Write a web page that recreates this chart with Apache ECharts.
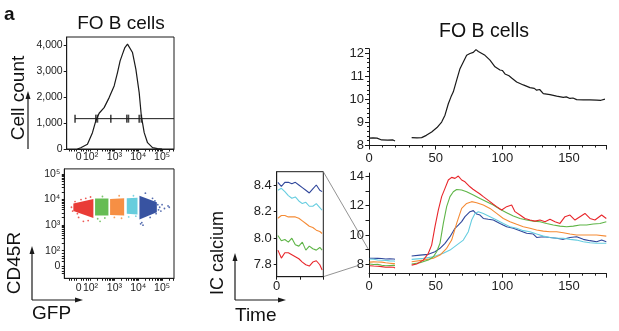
<!DOCTYPE html>
<html><head><meta charset="utf-8">
<script src="https://cdn.jsdelivr.net/npm/echarts@6/dist/echarts.min.js"></script>
<style>html,body{margin:0;padding:0;background:#fff}#c{width:619px;height:331px}</style>
</head><body><div id="c"></div>
<script>
// ---------- DATA ----------
// Histogram (x in decade units of GFP biexponential scale)
const histX     = [1.45,1.59,1.87,2.08,2.22,2.36,2.57,2.78,2.99,3.13,3.24,3.34,3.44,3.55,3.62,3.76,3.90,4.04,4.13,4.25,4.39,4.60,4.81,5.0];
const histCount = [0,50,180,627,1077,1373,1588,1973,2423,2935,3385,3642,3896,4027,3988,3704,3065,2165,1269,627,242,50,12,0];
const gateLineY = 1165;
const gateLineX = [1.35, 5.5];
const gateMarkX = [1.35,2.22,2.29,2.85,3.52,3.59,4.04,4.13];
const decadePos = [1.5,2,3,4,5];
const decadeLab = ['0','10²','10³','10⁴','10⁵'];
const cdPos = [1.4,2,3,4,5];
const cdLab = ['0','10²','10³','10⁴','10⁵'];
// Scatter gates: [xStart, xEnd, loStart, hiStart, loEnd, hiEnd] (decades)
const gateColors = ['#e8322c','#5db84b','#f5893a','#5fcadb','#2d4a9c'];
const gateClouds = [
  [1.28,2.12,3.55,3.85,3.28,4.02],
  [2.19,2.75,3.38,4.04,3.38,4.04],
  [2.82,3.41,3.40,4.02,3.38,4.05],
  [3.52,3.97,3.45,4.05,3.42,4.07],
  [4.05,4.78,3.22,4.15,3.5,3.9]
];
const loosePts = [
  [[1.2,3.7],[1.25,3.55],[1.35,3.92],[1.5,3.3],[1.7,3.15],[1.9,3.18],[2.0,4.1],[1.6,4.0],[1.45,3.45],[1.8,4.05]],
  [[2.3,3.25],[2.5,4.12],[2.6,3.28],[2.4,3.15]],
  [[3.0,3.3],[3.2,4.15],[3.3,3.27]],
  [[3.6,3.32],[3.8,4.15],[3.9,3.35]],
  [[4.1,3.05],[4.2,3.0],[4.3,4.25],[4.5,3.3],[4.6,4.05],[4.9,3.7],[5.0,3.8],[5.1,3.65],[5.25,3.75],[5.3,3.7],[4.95,3.55],[4.15,3.1],[4.75,3.45],[4.7,3.95],[4.85,3.6],[4.82,3.8]]
];
// Top trace (black) — [time, IC calcium]
const topSeg1 = [[0,8.3],[3,8.31],[6,8.3],[9.5,8.22],[14,8.21],[18,8.22],[19.5,8.17]];
const topSeg2 = [[32,8.32],[36,8.31],[39.5,8.32],[43,8.42],[47,8.57],[51,8.76],[54.5,9.0],[57,9.3],[59.5,9.8],[61.5,10.1],[63.25,10.32],[65.75,10.83],[68.25,11.33],[70.75,11.62],[73.25,11.91],[75.75,11.99],[78.25,12.04],[80.25,12.16],[82,12.08],[83.25,12.02],[87,11.91],[90.75,11.7],[94.5,11.41],[98.25,11.27],[100,11.25],[102,11.1],[105,11.02],[107,10.92],[110.75,10.75],[115.75,10.62],[120.75,10.5],[124,10.47],[125.75,10.39],[128,10.42],[130.75,10.24],[135.75,10.2],[140.75,10.13],[145.75,10.08],[148,10.1],[150.75,10.03],[153,10.05],[155.75,9.98],[160.75,9.97],[165.75,9.97],[170.75,9.96],[174,9.95],[177,10.0]];
// Baseline (0-20 s) per gate, also shown in the inset
const baseT   = [0.5,2,3.5,5,6.5,8,9.5,11,12.5,14,15.5,17,18.5,19.5];
const baseBlue   = [8.42,8.39,8.42,8.42,8.41,8.42,8.40,8.38,8.36,8.34,8.37,8.40,8.36,8.35];
const baseCyan   = [8.36,8.375,8.35,8.32,8.30,8.31,8.28,8.26,8.27,8.24,8.24,8.26,8.23,8.21];
const baseOrange = [8.15,8.17,8.17,8.16,8.16,8.16,8.15,8.13,8.11,8.09,8.08,8.06,8.05,8.035];
const baseGreen  = [8.02,7.98,7.99,7.97,8.0,7.95,7.94,7.97,7.91,7.94,7.92,7.91,7.93,7.91];
const baseRed    = [7.91,7.85,7.89,7.89,7.875,7.86,7.845,7.82,7.80,7.79,7.82,7.83,7.80,7.76];
// Response after stimulation — [time, IC calcium]
const redSeg2 = [[32,7.95],[35.75,8.02],[40.75,8.29],[44.5,8.75],[47,9.31],[49.5,10.56],[52,11.69],[54.5,12.6],[57,13.16],[59.5,13.73],[62,13.91],[64.5,13.84],[67,14.0],[69.5,13.73],[72,13.61],[75.75,13.27],[78,13.1],[80.75,12.93],[83,12.8],[85.75,12.6],[88,12.45],[90.75,12.26],[93,12.1],[95.75,11.92],[99.5,11.69],[103.25,11.92],[107,12.03],[109.5,11.58],[113.25,11.35],[117,11.12],[120.75,11.01],[124.5,10.94],[128.25,11.01],[132,10.9],[135.75,11.06],[139.5,10.9],[143.25,10.78],[147,11.24],[150.75,11.35],[154.5,11.01],[158.25,11.24],[162,11.46],[165.75,11.12],[169.5,11.01],[174.5,11.35],[178,11.12]];
const greenSeg2 = [[32,8.02],[38.25,8.11],[44.5,8.29],[48.25,8.52],[50.75,8.86],[53.25,9.43],[55.75,10.78],[58.25,11.92],[60.75,12.6],[63.25,12.93],[65.75,13.09],[69.5,13.05],[73.25,12.93],[78.25,12.71],[83.25,12.48],[88.25,12.26],[93.25,12.03],[98.25,11.74],[103.25,11.51],[108.25,11.28],[113.25,11.12],[118.25,11.01],[123.25,10.94],[128.25,10.9],[133.25,10.78],[138.25,10.67],[143.25,10.6],[148.25,10.56],[153.25,10.6],[158.25,10.67],[163.25,10.67],[168.25,10.74],[173.25,10.78],[178,10.9]];
const orangeSeg2 = [[32,8.18],[40.75,8.29],[48.25,8.41],[53.25,8.63],[58.25,9.09],[62,9.65],[65.75,10.78],[69.5,11.8],[73.25,12.14],[77,12.26],[80.75,12.19],[85.75,12.03],[90.75,11.8],[95.75,11.46],[100.75,11.12],[105.75,10.9],[110.75,10.72],[115.75,10.56],[120.75,10.45],[125.75,10.33],[130.75,10.26],[135.75,10.22],[140.75,10.22],[145.75,10.15],[150.75,10.06],[155.75,9.99],[160.75,9.99],[165.75,9.99],[170.75,9.99],[178,9.92]];
const cyanSeg2 = [[32,8.34],[40.75,8.41],[48.25,8.52],[55.75,8.75],[60.75,8.97],[65.75,9.31],[70.75,9.65],[74.5,10.22],[77,11.01],[79.5,11.46],[82,11.58],[85.75,11.46],[90.75,11.24],[95.75,11.01],[100.75,10.78],[105.75,10.56],[110.75,10.45],[115.75,10.29],[120.75,10.22],[125.75,10.06],[130.75,9.92],[135.75,9.83],[140.75,9.77],[145.75,9.77],[150.75,9.7],[155.75,9.65],[160.75,9.54],[165.75,9.47],[170.75,9.43],[178,9.43]];
const blueSeg2 = [[32,8.57],[38.25,8.63],[44.5,8.68],[49.5,8.86],[53.25,9.09],[57,9.43],[60.75,9.88],[64.5,10.45],[67,10.67],[69.5,10.9],[72,11.24],[75.75,11.58],[78.25,11.65],[80.75,11.42],[83.25,11.35],[85.75,11.12],[89.5,11.06],[93.25,11.01],[98.25,10.78],[103.25,10.56],[108.25,10.45],[113.25,10.29],[118.25,10.11],[123.25,10.06],[125.75,9.83],[130.75,9.88],[135.75,9.83],[140.75,9.77],[145.75,9.7],[150.75,9.83],[155.75,9.88],[160.75,9.7],[165.75,9.61],[170.75,9.54],[174.5,9.65],[178,9.54]];
const mainTopY = [8,9,10,11,12];
const mainBotY = [8,10,12,14];
const insetY = [7.8,8.0,8.2,8.4];

// ---------- CHART ----------
const FONT = "'Liberation Sans', Arial, Helvetica, sans-serif";
const INK = '#1a1a1a';
const chart = echarts.init(document.getElementById('c'), null, {renderer:'canvas'});

const logMinor = [];
[1.1,1.2,1.3,1.4,1.6,1.7,1.8,1.9].forEach(v=>logMinor.push(v));
for (let k=2;k<=5;k++){ for (let m=1;m<=9;m++){ const v=k+Math.log10(m); if (v<=5.5) logMinor.push(+v.toFixed(4)); } }

function lab(pos, labs){ return function(v){ const i = pos.findIndex(p=>Math.abs(p-v)<1e-6); return i>=0?labs[i]:''; }; }
const axLine = {show:true, lineStyle:{color:INK, width:1}};
function tick(len, vals){ const t={show:true, length:len, inside:false, lineStyle:{color:INK, width:1}}; if(vals) t.customValues=vals; return t; }
function labelCfg(size, margin, extra){ return Object.assign({fontSize:size, color:'#222', margin:margin, fontFamily:FONT}, extra||{}); }

const lineColors = {red:'#e8262b', green:'#5fb548', orange:'#f58b35', cyan:'#66cde0', blue:'#30479b'};
const baseData = {red:baseRed, green:baseGreen, orange:baseOrange, cyan:baseCyan, blue:baseBlue};
const seg2Data = {red:redSeg2, green:greenSeg2, orange:orangeSeg2, cyan:cyanSeg2, blue:blueSeg2};
const order = ['blue','cyan','orange','green','red'];

const series = [];
// Histogram
series.push({type:'line', xAxisIndex:0, yAxisIndex:0, data:histX.map((x,i)=>[x,histCount[i]]), symbol:'none', lineStyle:{color:INK, width:1.2}, silent:true});
series.push({type:'line', xAxisIndex:0, yAxisIndex:0, data:gateLineX.map(x=>[x,gateLineY]), symbol:'none', lineStyle:{color:INK, width:1}, silent:true});
series.push({type:'scatter', xAxisIndex:0, yAxisIndex:0, data:gateMarkX.map(x=>[x,gateLineY]), symbol:'rect', symbolSize:[1.6,8], itemStyle:{color:INK}, silent:true});
// Scatter clouds
series.push({type:'custom', xAxisIndex:1, yAxisIndex:1, data:gateClouds, clip:true, silent:true,
  encode:{x:[0,1], y:[2,3,4,5]},
  renderItem:function(params, api){
    const c = gateClouds[params.dataIndex];
    const pts = [api.coord([c[0],c[2]]), api.coord([c[1],c[4]]), api.coord([c[1],c[5]]), api.coord([c[0],c[3]])];
    return {type:'polygon', shape:{points:pts}, style:{fill:gateColors[params.dataIndex], opacity:0.95}};
  }});
loosePts.forEach((pts,i)=>series.push({type:'scatter', xAxisIndex:1, yAxisIndex:1, data:pts, symbolSize:1.8, itemStyle:{color:gateColors[i]}, silent:true}));
// Top trace
series.push({type:'line', xAxisIndex:2, yAxisIndex:2, data:topSeg1.concat([[25,'-']], topSeg2), symbol:'none', connectNulls:false, lineStyle:{color:INK, width:1.2}, silent:true});
// Bottom traces + inset
order.forEach(k=>{
  const seg1 = baseT.map((t,i)=>[t, baseData[k][i]]);
  series.push({type:'line', xAxisIndex:3, yAxisIndex:3, data:seg1.concat([[25,'-']], seg2Data[k]), symbol:'none', connectNulls:false, lineStyle:{color:lineColors[k], width:1.1}, silent:true});
  series.push({type:'line', xAxisIndex:4, yAxisIndex:4, data:seg1, symbol:'none', lineStyle:{color:lineColors[k], width:1.1}, silent:true});
});

const option = {
  animation:false,
  backgroundColor:'#fff',
  textStyle:{fontFamily:FONT},
  grid:[
    {left:66.7, top:37, width:107.3, height:112, show:true, borderColor:INK, borderWidth:1},
    {left:64.3, top:168.9, width:109.7, height:109.4, show:true, borderColor:INK, borderWidth:1},
    {left:369, top:48.7, width:237.3, height:96.3},
    {left:369, top:173.1, width:237.3, height:100.1},
    {left:276.7, top:171.7, width:46.6, height:105, show:true, borderColor:INK, borderWidth:1}
  ],
  xAxis:[
    {gridIndex:0, type:'value', min:1.0, max:5.5, axisLine:axLine, axisTick:tick(2.5, logMinor), splitLine:{show:false},
      axisLabel:labelCfg(10.5, 3, {customValues:decadePos, formatter:lab(decadePos, decadeLab)})},
    {gridIndex:1, type:'value', min:0.9, max:5.5, axisLine:axLine, axisTick:tick(2.5, logMinor), splitLine:{show:false},
      axisLabel:labelCfg(10.5, 4, {customValues:decadePos, formatter:lab(decadePos, decadeLab)})},
    {gridIndex:2, type:'value', min:0, max:178, interval:50, axisLine:axLine, axisTick:tick(4.5), minorTick:{show:true, splitNumber:5, length:2.5, lineStyle:{color:INK}}, splitLine:{show:false}, minorSplitLine:{show:false},
      axisLabel:labelCfg(13, 7, {showMaxLabel:false})},
    {gridIndex:3, type:'value', min:0, max:178, interval:50, axisLine:axLine, axisTick:tick(4.5), minorTick:{show:true, splitNumber:5, length:2.5, lineStyle:{color:INK}}, splitLine:{show:false}, minorSplitLine:{show:false},
      axisLabel:labelCfg(13, 7, {showMaxLabel:false})},
    {gridIndex:4, type:'value', min:0, max:20, axisLine:axLine, axisTick:tick(3, [0,10,20]), splitLine:{show:false},
      axisLabel:labelCfg(13, 3, {customValues:[0], formatter:v=>String(v)})}
  ],
  yAxis:[
    {gridIndex:0, type:'value', min:0, max:4300, axisLine:axLine, axisTick:tick(3, [0,1000,2000,3000,4000]), splitLine:{show:false},
      axisLabel:labelCfg(10.5, 4, {customValues:[0,1000,2000,3000,4000], formatter:v=>v.toLocaleString('en-US')})},
    {gridIndex:1, type:'value', min:0.92, max:5.2, axisLine:axLine, axisTick:tick(2.5, logMinor.filter(v=>v>=1.0 && v<=5.2).concat([1.4])), splitLine:{show:false},
      axisLabel:labelCfg(10.5, 4, {customValues:cdPos, formatter:lab(cdPos, cdLab)})},
    {gridIndex:2, type:'value', min:8, max:12.2, interval:1, axisLine:axLine, axisTick:tick(4), minorTick:{show:true, splitNumber:5, length:2, lineStyle:{color:INK}}, splitLine:{show:false}, minorSplitLine:{show:false},
      axisLabel:labelCfg(13, 5, {customValues:mainTopY, formatter:v=>String(v)})},
    {gridIndex:3, type:'value', min:7.4, max:14.2, axisLine:axLine, axisTick:tick(3.5, [8,9,10,11,12,13,14]), splitLine:{show:false},
      axisLabel:labelCfg(13, 5, {customValues:mainBotY, formatter:v=>String(v)})},
    {gridIndex:4, type:'value', min:7.71, max:8.5, axisLine:axLine, axisTick:tick(3, insetY), splitLine:{show:false},
      axisLabel:labelCfg(13, 5, {customValues:insetY, formatter:v=>v.toFixed(1)})}
  ],
  series:series
};
chart.setOption(option);

// ---------- annotations ----------
function txt(x,y,s,size,opts){ opts=opts||{}; return {type:'text', x:x, y:y, rotation:opts.rot||0, silent:true,
  style:{text:s, font:(opts.bold?'bold ':'')+size+'px '+FONT, fill:'#111', textAlign:opts.align||'center', textVerticalAlign:'middle', align:opts.align||'center', verticalAlign:'middle'}}; }
function seg(x1,y1,x2,y2,color,w){ return {type:'line', silent:true, shape:{x1:x1,y1:y1,x2:x2,y2:y2}, style:{stroke:color||INK, lineWidth:w||1.2}}; }
function head(pts){ return {type:'polygon', silent:true, shape:{points:pts}, style:{fill:INK}}; }

const g = [];
g.push(txt(4,15,'a',19,{bold:true, align:'left'}));
g.push(txt(121,24,'FO B cells',19));
g.push(txt(484,32,'FO B cells',19.5));
g.push(txt(19,98,'Cell count',19,{rot:Math.PI/2}));
g.push(seg(28,149,28,97)); g.push(head([[28,91],[25.5,99],[30.5,99]]));
g.push(txt(15,263,'CD45R',19,{rot:Math.PI/2}));
g.push(seg(32,300,32,252)); g.push(head([[32,246],[29.5,254],[34.5,254]]));
g.push(seg(32,300,77,300)); g.push(head([[83,300],[75,297.5],[75,302.5]]));
g.push(txt(32,314,'GFP',19,{align:'left'}));
g.push(txt(218,253,'IC calcium',18,{rot:Math.PI/2}));
g.push(seg(235,300,235,259)); g.push(head([[235,253],[232.5,261],[237.5,261]]));
g.push(seg(235,300,280,300)); g.push(head([[286,300],[278,297.5],[278,302.5]]));
g.push(txt(235,316,'Time',19,{align:'left'}));

const a1 = chart.convertToPixel({gridIndex:4}, [20, 8.5]);
const b1 = chart.convertToPixel({gridIndex:3}, [0, 8.95]);
const a2 = chart.convertToPixel({gridIndex:4}, [20, 7.71]);
const b2 = chart.convertToPixel({gridIndex:3}, [0, 7.9]);
g.push(seg(a1[0],a1[1],b1[0],b1[1],'#777',0.8));
g.push(seg(a2[0],a2[1],b2[0]-12,b2[1],'#777',0.8));
chart.setOption({graphic:{elements:g}});
</script></body></html>
